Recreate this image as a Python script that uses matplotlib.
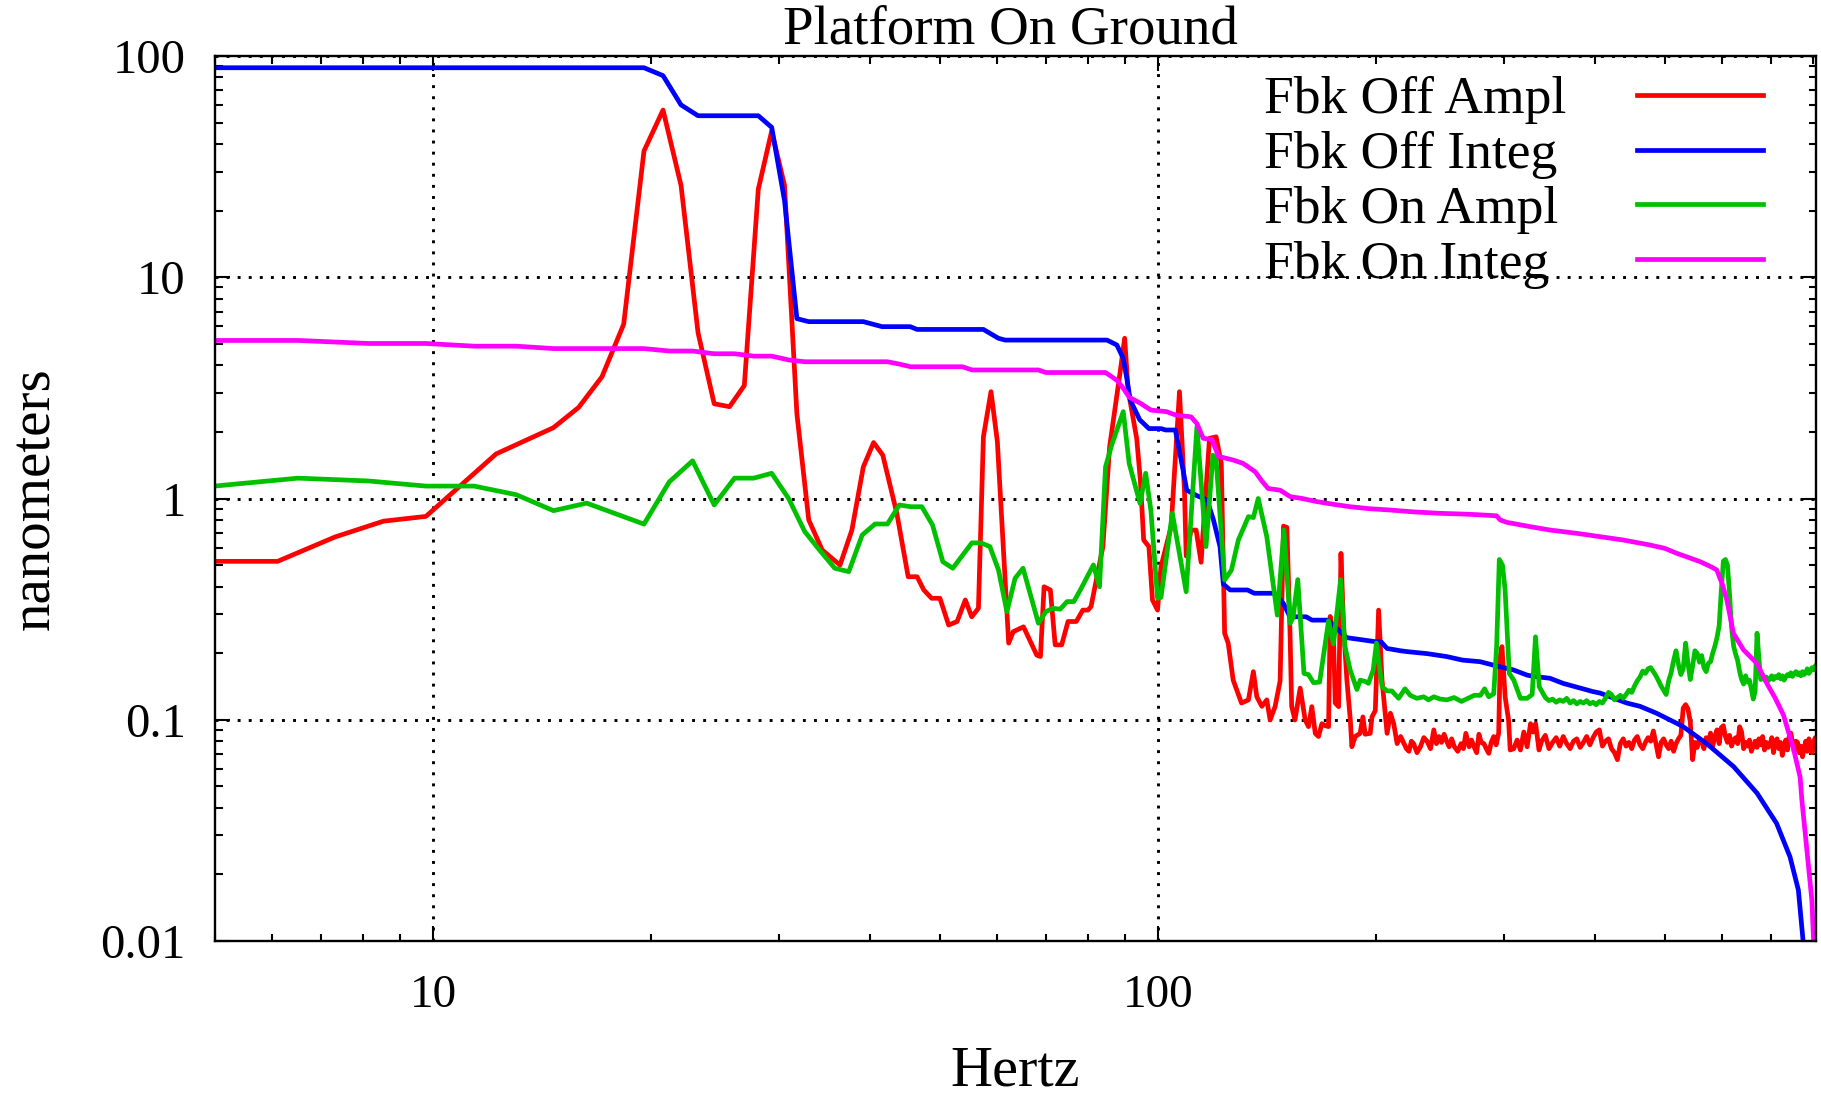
import matplotlib
matplotlib.use('Agg')
import matplotlib.pyplot as plt
from matplotlib.lines import Line2D
from matplotlib.ticker import FuncFormatter, NullFormatter, LogLocator

plt.rcParams['font.family'] = ['Liberation Serif', 'DejaVu Serif']

# ── data (Hz, nanometers) ────────────────────────────────────────────────
# Fbk Off Ampl : low / mid frequency part
off_ampl = [
    (4.88, 0.52), (6.10, 0.52), (7.32, 0.67), (8.54, 0.79), (9.77, 0.83),
    (12.21, 1.59), (14.65, 2.09), (15.87, 2.58), (17.09, 3.55), (18.31, 6.13),
    (19.53, 37.2), (20.75, 57.0), (21.97, 26.0), (23.19, 5.61), (24.41, 2.68),
    (25.63, 2.60), (26.86, 3.24), (28.08, 25.0), (29.30, 45.8), (30.52, 26.0),
    (31.74, 2.42), (32.96, 0.80), (34.4, 0.585), (36.4, 0.50), (37.8, 0.72),
    (39.2, 1.39), (40.5, 1.79), (41.7, 1.57), (43.6, 0.857), (45.2, 0.443),
    (46.5, 0.443), (47.5, 0.386), (48.7, 0.354), (50.0, 0.354), (51.4, 0.268),
    (52.8, 0.278), (54.2, 0.348), (55.3, 0.292), (56.5, 0.319), (57.4, 1.90),
    (58.8, 3.04), (60.0, 1.81), (62.2, 0.222), (63.1, 0.25), (65.2, 0.263),
    (68.0, 0.196), (68.8, 0.193), (69.6, 0.399), (71.0, 0.386), (72.1, 0.218),
    (73.6, 0.218), (75.1, 0.278), (77.1, 0.278), (78.7, 0.313), (80.0, 0.313),
    (80.8, 0.325), (83.9, 0.606), (85.7, 1.71), (88.5, 3.61), (89.9, 5.3),
    (90.9, 3.09), (93.4, 1.87), (94.5, 1.21), (95.5, 0.649), (97.1, 0.606),
    (98.2, 0.348), (99.8, 0.313), (100.9, 0.492), (104.2, 0.746), (107.0, 3.04),
    (108.7, 1.09), (109.3, 0.55), (111.0, 0.72), (112.8, 0.72), (114.6, 0.515),
    (117.7, 1.87), (120.2, 1.90), (122.2, 1.44), (123.5, 0.246), (124.9, 0.222),
    (126.9, 0.151), (130.3, 0.119), (133.2, 0.123), (135.3, 0.165), (136.8, 0.127),
    (139.0, 0.115), (141.2, 0.123), (142.7, 0.0998), (145.0, 0.115), (147.3, 0.15),
    (148.9, 0.75), (150.5, 0.74), (152.0, 0.25), (152.8, 0.115), (154.4, 0.0998),
    (157.0, 0.139), (159.5, 0.0998), (161.2, 0.0931), (162.9, 0.1146), (164.7, 0.0868),
    (166.4, 0.084), (168.2, 0.096), (170.0, 0.094), (171.8, 0.0931), (172.7, 0.293),
    (174.5, 0.237), (175.5, 0.119), (177.4, 0.1146), (178.7, 0.565), (180.2, 0.264),
    (182.1, 0.151), (184.1, 0.0998), (185.0, 0.0755), (187.0, 0.084), (189.9, 0.0868),
    (191.6, 0.103), (193.0, 0.086), (196.1, 0.0868), (197.2, 0.103), (199.3, 0.11),
    (201.4, 0.313), (203.6, 0.151), (206.9, 0.0868), (209.1, 0.107), (211.3, 0.096),
    (213.6, 0.078), (216.0, 0.084), (218.3, 0.078), (220.0, 0.074), (221.8, 0.072),
    (223.5, 0.080), (225.1, 0.078), (227.5, 0.071), (230.0, 0.0755), (232.5, 0.083),
    (234.9, 0.080), (237.5, 0.074), (240.0, 0.090), (242.0, 0.078), (244.0, 0.084),
    (246.0, 0.079), (248.0, 0.086), (250.0, 0.080), (252.0, 0.0755), (254.0, 0.082),
    (256.2, 0.0755), (259.0, 0.072), (261.7, 0.078), (263.7, 0.074), (265.7, 0.0868),
    (268.5, 0.0755), (270.5, 0.081), (272.7, 0.0755), (275.0, 0.071), (277.0, 0.086),
    (279.0, 0.079), (281.4, 0.078), (283.5, 0.074), (285.8, 0.0705), (288.0, 0.079),
    (290.3, 0.084), (292.5, 0.077), (294.9, 0.0868), (296.4, 0.193), (298.0, 0.214),
    (301.1, 0.126), (304.3, 0.0998), (305.9, 0.073), (309.4, 0.074), (312.7, 0.081),
    (316.0, 0.073), (319.4, 0.088), (322.8, 0.0755), (326.3, 0.096), (329.0, 0.088),
    (331.6, 0.096), (335.2, 0.073),
]

# Fbk On Ampl : low / mid frequency part
on_ampl = [
    (4.88, 1.13), (6.51, 1.236), (8.14, 1.20), (9.77, 1.138), (11.39, 1.138),
    (13.02, 1.04), (14.65, 0.881), (16.28, 0.953), (19.53, 0.766), (21.16, 1.188),
    (22.79, 1.48), (24.41, 0.935), (26.04, 1.236), (27.67, 1.236), (29.30, 1.30),
    (30.92, 1.0), (32.55, 0.708), (34.18, 0.58), (35.8, 0.484), (37.43, 0.467),
    (39.06, 0.684), (40.69, 0.767), (42.32, 0.767), (43.95, 0.935), (45.57, 0.918),
    (47.2, 0.918), (48.83, 0.76), (50.46, 0.518), (52.08, 0.484), (55.34, 0.63),
    (56.97, 0.63), (58.6, 0.606), (60.22, 0.475), (61.85, 0.308), (63.48, 0.436),
    (65.1, 0.484), (68.36, 0.273), (69.99, 0.308), (71.6, 0.319), (73.24, 0.316),
    (74.87, 0.342), (76.5, 0.342), (78.1, 0.386), (81.4, 0.501), (83.0, 0.399),
    (84.6, 1.39), (86.3, 1.75), (89.5, 2.47), (91.2, 1.44), (94.4, 0.95),
    (96.1, 1.30), (97.7, 0.887), (99.8, 0.354), (100.9, 0.357), (104.6, 0.857),
    (109.3, 0.379), (113.1, 2.11), (116.4, 0.606), (119.0, 1.57), (120.2, 1.5),
    (123.5, 0.428), (126.2, 0.475), (129.0, 0.649), (133.2, 0.828), (135.3, 0.82),
    (137.4, 1.0), (141.2, 0.672), (146.0, 0.297), (149.1, 0.72), (152.1, 0.273),
    (153.5, 0.29), (155.8, 0.43), (158.9, 0.162), (161.2, 0.16), (163.8, 0.147),
    (167.0, 0.148), (171.8, 0.28), (174.5, 0.22), (178.5, 0.43), (181.0, 0.214),
    (184.0, 0.168), (188.0, 0.137), (190.0, 0.151), (193.0, 0.149), (195.0, 0.146),
    (198.0, 0.168), (200.0, 0.222), (203.6, 0.141), (206.9, 0.135), (210.0, 0.135),
    (214.6, 0.125), (219.0, 0.138), (222.7, 0.129), (227.4, 0.125), (232.4, 0.127),
    (236.0, 0.123), (240.0, 0.127), (245.0, 0.124), (250.3, 0.123), (256.0, 0.126),
    (262.0, 0.121), (267.5, 0.125), (273.0, 0.129), (278.3, 0.129), (282.0, 0.138),
    (285.8, 0.127), (290.3, 0.131), (293.0, 0.214), (295.5, 0.53), (298.5, 0.50),
    (301.0, 0.386), (305.0, 0.162), (309.4, 0.151), (316.0, 0.125), (322.8, 0.125),
    (328.0, 0.13), (331.5, 0.237), (335.5, 0.141),
]

# high frequency noise floor, shared frequency grid
hf_hz = [
    338, 342, 346, 350, 354, 358, 362, 366, 370, 374,
    378, 382, 386, 390, 394, 398, 402, 406, 410, 414,
    418, 422, 426, 430, 434, 438, 442, 446, 450, 454,
    458, 462, 466, 470, 474, 478, 482, 486, 490, 494,
    498, 502, 506, 510, 514, 518, 522, 526, 530, 534,
    538, 542, 546, 550, 554, 558, 562, 566, 570, 574,
    578, 582, 586, 590, 594, 598, 602, 606, 610, 614,
    618, 622, 626, 630, 634, 638, 642, 646, 650, 654,
    658, 662, 666, 670, 674, 678, 682, 686, 690, 694,
    698, 702, 706, 710, 714, 718, 722, 726, 730, 734,
    738, 742, 746, 750, 754, 758, 762, 766, 770, 774,
    778, 782, 786, 790, 794, 798, 802, 806, 810,
]
off_ampl_hf = [
    0.080, 0.085, 0.074, 0.079, 0.083, 0.076, 0.084, 0.078, 0.074, 0.080,
    0.082, 0.075, 0.079, 0.084, 0.077, 0.083, 0.088, 0.090, 0.076, 0.080,
    0.082, 0.074, 0.071, 0.066, 0.078, 0.082, 0.076, 0.079, 0.074, 0.081,
    0.084, 0.077, 0.074, 0.079, 0.083, 0.080, 0.089, 0.078, 0.068, 0.079,
    0.082, 0.077, 0.074, 0.080, 0.072, 0.078, 0.082, 0.085, 0.113, 0.117,
    0.112, 0.098, 0.066, 0.079, 0.075, 0.082, 0.080, 0.074, 0.083, 0.079,
    0.087, 0.076, 0.084, 0.090, 0.078, 0.092, 0.094, 0.084, 0.079, 0.085,
    0.076, 0.081, 0.083, 0.078, 0.093, 0.088, 0.074, 0.079, 0.076, 0.081,
    0.072, 0.076, 0.080, 0.075, 0.082, 0.077, 0.084, 0.073, 0.079, 0.075,
    0.077, 0.083, 0.071, 0.080, 0.082, 0.074, 0.079, 0.069, 0.076, 0.081,
    0.073, 0.084, 0.087, 0.078, 0.072, 0.080, 0.079, 0.071, 0.076, 0.068,
    0.074, 0.080, 0.072, 0.082, 0.076, 0.071, 0.079, 0.083, 0.080,
]
on_ampl_hf = [
    0.135, 0.126, 0.122, 0.124, 0.120, 0.123, 0.121, 0.125, 0.119, 0.122,
    0.118, 0.121, 0.119, 0.122, 0.118, 0.120, 0.117, 0.121, 0.119, 0.125,
    0.133, 0.130, 0.123, 0.126, 0.129, 0.125, 0.130, 0.136, 0.133, 0.142,
    0.150, 0.156, 0.166, 0.162, 0.170, 0.172, 0.165, 0.158, 0.150, 0.142,
    0.136, 0.130, 0.150, 0.163, 0.185, 0.205, 0.178, 0.160, 0.170, 0.222,
    0.180, 0.152, 0.175, 0.205, 0.200, 0.182, 0.195, 0.172, 0.165, 0.180,
    0.183, 0.200, 0.215, 0.235, 0.265, 0.38, 0.52, 0.53, 0.50, 0.37,
    0.26, 0.215, 0.198, 0.185, 0.165, 0.152, 0.145, 0.158, 0.148, 0.151,
    0.138, 0.124, 0.135, 0.246, 0.190, 0.152, 0.160, 0.152, 0.156, 0.150,
    0.153, 0.158, 0.152, 0.157, 0.155, 0.160, 0.153, 0.158, 0.151, 0.156,
    0.160, 0.158, 0.163, 0.157, 0.161, 0.165, 0.160, 0.163, 0.158, 0.165,
    0.160, 0.163, 0.170, 0.162, 0.166, 0.172, 0.168, 0.175, 0.178,
]

# Fbk Off Integ
off_integ = [
    (4.88, 88.5), (19.53, 88.5), (20.75, 81.5), (21.97, 60.1), (23.19, 53.7),
    (28.08, 53.7), (29.30, 47.6), (30.52, 22.2), (31.74, 6.5), (32.96, 6.30),
    (39.2, 6.30), (41.6, 5.98), (45.5, 5.98), (46.5, 5.81), (57.4, 5.81),
    (60.2, 5.30), (61.5, 5.20), (85.0, 5.20), (87.7, 4.94), (89.5, 4.3),
    (90.5, 3.5), (91.5, 2.79), (94.3, 2.27), (97.1, 2.07), (100.9, 2.07),
    (102.4, 2.04), (105.6, 2.04), (107.8, 1.44), (109.5, 1.09), (113.1, 1.03),
    (116.8, 0.985), (119.2, 0.80), (121.7, 0.606), (123.0, 0.41), (125.7, 0.386),
    (132.8, 0.386), (135.7, 0.373), (144.7, 0.373), (148.8, 0.336), (152.0, 0.292),
    (160.0, 0.292), (163.0, 0.282), (171.5, 0.282), (176.0, 0.26), (182.0, 0.235),
    (200.0, 0.225), (203.0, 0.225), (206.9, 0.21), (216.0, 0.205), (221.0, 0.203),
    (235.0, 0.199), (250.0, 0.193), (263.0, 0.186), (278.0, 0.183), (293.0, 0.175),
    (309.0, 0.168), (323.0, 0.159), (330.0, 0.157), (347.0, 0.154), (362.0, 0.146),
    (398.0, 0.134), (407.0, 0.132), (443.0, 0.119), (462.0, 0.115), (487.0, 0.107),
    (519.0, 0.0964), (530.0, 0.093), (571.0, 0.078), (622.0, 0.0614), (670.0, 0.0466),
    (713.0, 0.034), (744.0, 0.024), (764.0, 0.017), (776.0, 0.0098), (782.0, 0.007),
]

# Fbk On Integ
on_integ = [
    (4.88, 5.18), (6.51, 5.18), (8.14, 5.02), (9.77, 5.02), (11.39, 4.88),
    (13.02, 4.88), (14.65, 4.76), (19.53, 4.76), (21.16, 4.64), (22.79, 4.64),
    (24.41, 4.51), (26.04, 4.51), (27.67, 4.40), (29.30, 4.40), (30.92, 4.23),
    (32.55, 4.15), (42.32, 4.15), (43.95, 4.05), (45.57, 3.94), (53.71, 3.94),
    (55.34, 3.81), (68.36, 3.81), (69.99, 3.71), (84.6, 3.71), (86.3, 3.55),
    (87.9, 3.4), (89.5, 3.15), (91.2, 2.87), (94.4, 2.70), (97.7, 2.51),
    (102.6, 2.47), (105.9, 2.38), (111.0, 2.34), (113.1, 2.18), (115.4, 1.87),
    (118.6, 1.85), (121.1, 1.55), (127.1, 1.49), (131.0, 1.44), (136.1, 1.32),
    (139.0, 1.2), (141.8, 1.11), (147.3, 1.09), (152.1, 1.02), (158.0, 1.0),
    (165.6, 0.968), (175.0, 0.94), (184.0, 0.918), (195.0, 0.90), (208.9, 0.887),
    (225.0, 0.87), (244.9, 0.857), (265.0, 0.85), (281.0, 0.842), (293.0, 0.835),
    (296.3, 0.80), (302.7, 0.78), (326.0, 0.746), (347.3, 0.72), (378.0, 0.696),
    (407.1, 0.672), (438.3, 0.649), (477.2, 0.616), (500.0, 0.595), (519.4, 0.565),
    (540.0, 0.54), (559.4, 0.518), (580.0, 0.49), (589.6, 0.475), (600.0, 0.41),
    (608.7, 0.348), (621.6, 0.246), (641.7, 0.207), (669.6, 0.18), (691.2, 0.146),
    (710.0, 0.125), (728.7, 0.105), (752.2, 0.074), (768.3, 0.055), (772.5, 0.0434),
    (784.9, 0.0258), (797.4, 0.0153), (803.0, 0.009),
]

labels = ['Fbk Off Ampl', 'Fbk Off Integ', 'Fbk On Ampl', 'Fbk On Integ']
colours = ['#ff0000', '#0000ff', '#00c000', '#ff00ff']

# ── assemble series ──────────────────────────────────────────────────────
def split(pairs):
    return [p[0] for p in pairs], [p[1] for p in pairs]

off_ampl_x, off_ampl_y = split(off_ampl)
off_ampl_x += hf_hz
off_ampl_y += off_ampl_hf
on_ampl_x, on_ampl_y = split(on_ampl)
on_ampl_x += hf_hz
on_ampl_y += on_ampl_hf
off_integ_x, off_integ_y = split(off_integ)
on_integ_x, on_integ_y = split(on_integ)

series = [(off_ampl_x, off_ampl_y), (off_integ_x, off_integ_y),
          (on_ampl_x, on_ampl_y), (on_integ_x, on_integ_y)]

# ── figure ───────────────────────────────────────────────────────────────
W, H = 1821, 1098
fig = plt.figure(figsize=(W / 100, H / 100), dpi=100)
L, R, T, B = 215, 1816, 56, 941
ax = fig.add_axes([L / W, 1 - B / H, (R - L) / W, (B - T) / H])

lines = []
for (x, y), c, lab in zip(series, colours, labels):
    ln, = ax.plot(x, y, color=c, lw=3.4, label=lab)
    lines.append(ln)

ax.set_xscale('log')
ax.set_yscale('log')
ax.set_xlim(5, 808)
ax.set_ylim(0.01, 100)

fmt = FuncFormatter(lambda v, p: '%g' % v)
ax.xaxis.set_major_formatter(fmt)
ax.yaxis.set_major_formatter(fmt)
ax.xaxis.set_minor_formatter(NullFormatter())
ax.yaxis.set_minor_formatter(NullFormatter())
ax.yaxis.set_major_locator(LogLocator(base=10, numticks=10))
ax.yaxis.set_minor_locator(LogLocator(base=10, subs=range(2, 10), numticks=10))

ax.tick_params(which='both', direction='in', top=True, right=True, width=1.5)
ax.tick_params(which='major', length=10.8)
ax.tick_params(which='minor', length=5.4)
ax.tick_params(axis='x', which='major', labelsize=34, pad=24)
ax.tick_params(axis='y', which='major', labelsize=35, pad=21)
for sp in ax.spines.values():
    sp.set_linewidth(1.7)

ax.grid(True, which='major', color='black', linestyle=(0, (1, 2.8)), linewidth=2.1)
ax.set_axisbelow(True)

ax.set_title('Platform On Ground', fontsize=39.5, pad=6.5, x=(1010 - L) / (R - L))
ax.set_xlabel('Hertz', fontsize=42)
ax.xaxis.set_label_coords(0.5, (B - 1046) / (B - T))
ax.set_ylabel('nanometers', fontsize=41)
ax.yaxis.set_label_coords((61 - L) / (R - L), 0.5)

# ── key: labels left-aligned, line samples in their own column ───────────
leg_top = (B - 76) / (B - T)
proxies = [Line2D([], [], linestyle='none') for _ in labels]
leg_text = ax.legend(proxies, labels, loc='upper left',
                     bbox_to_anchor=((1264 - L) / (R - L), leg_top),
                     frameon=False, fontsize=38.5, handlelength=0, handletextpad=0,
                     borderpad=0, borderaxespad=0, labelspacing=0.12)
ax.add_artist(leg_text)
ax.legend(lines, [''] * len(lines), loc='upper left',
          bbox_to_anchor=((1637 - L) / (R - L), leg_top),
          frameon=False, fontsize=38.5, handlelength=2.35, handletextpad=0,
          borderpad=0, borderaxespad=0, labelspacing=0.12)

fig.savefig('out.png', dpi=100, facecolor='white')
